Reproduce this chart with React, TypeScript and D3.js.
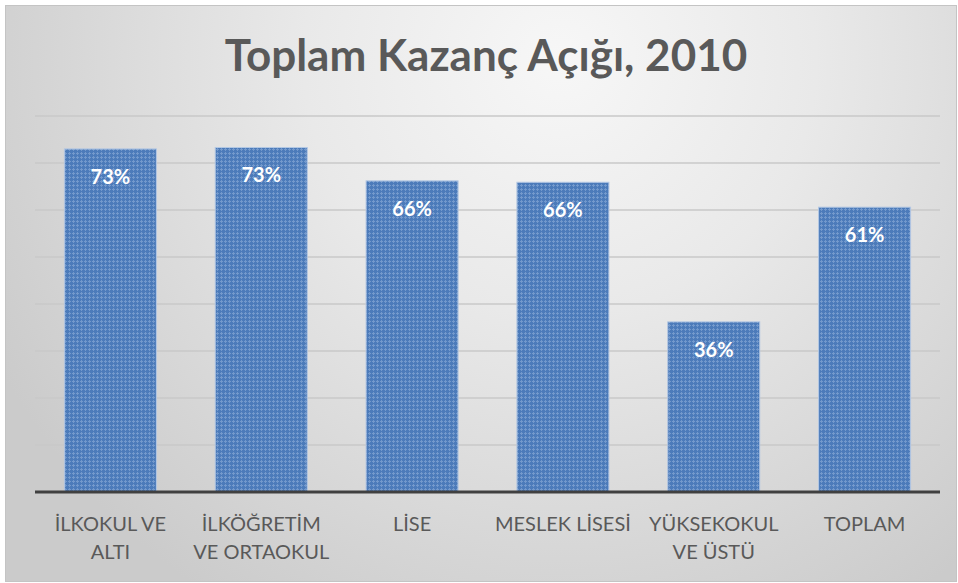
import React, { useEffect, useRef } from "react";
import * as d3 from "d3";

const title = "Toplam Kazanç Açığı, 2010";
const categories = [
  "İLKOKUL VE ALTI",
  "İLKÖĞRETİM VE ORTAOKUL",
  "LİSE",
  "MESLEK LİSESİ",
  "YÜKSEKOKUL VE ÜSTÜ",
  "TOPLAM",
];
const values = [0.73, 0.733, 0.662, 0.659, 0.362, 0.606];
const labels = ["73%", "73%", "66%", "66%", "36%", "61%"];
const gridTicks = [0.1, 0.2, 0.3, 0.4, 0.5, 0.6, 0.7, 0.8];

const W = 958;
const H = 583;
const FONT = "Lato, 'Open Sans', sans-serif";

export default function App() {
  const ref = useRef<SVGSVGElement>(null);

  useEffect(() => {
    const svg = d3.select(ref.current);
    svg.selectAll("*").remove();

    const defs = svg.append("defs");
    const bg = defs
      .append("radialGradient")
      .attr("id", "bg")
      .attr("gradientUnits", "userSpaceOnUse")
      .attr("cx", 560)
      .attr("cy", 60)
      .attr("r", 640);
    bg.append("stop").attr("offset", "0").attr("stop-color", "#f7f7f7");
    bg.append("stop").attr("offset", "0.4").attr("stop-color", "#e9e9e9");
    bg.append("stop").attr("offset", "1").attr("stop-color", "#cbcbcb");

    const pat = defs
      .append("pattern")
      .attr("id", "dots")
      .attr("patternUnits", "userSpaceOnUse")
      .attr("width", 4)
      .attr("height", 4);
    pat.append("rect").attr("width", 4).attr("height", 4).attr("fill", "#4c7bba");
    pat.append("rect").attr("x", 1).attr("y", 0).attr("width", 1).attr("height", 3).attr("fill", "#7399cc");
    pat.append("rect").attr("x", 0).attr("y", 1).attr("width", 3).attr("height", 1).attr("fill", "#7399cc");

    // frame
    svg
      .append("rect")
      .attr("x", 5.5)
      .attr("y", 5.5)
      .attr("width", W - 7)
      .attr("height", H - 7)
      .attr("fill", "url(#bg)")
      .attr("stroke", "#c4c4c4")
      .attr("stroke-width", 1);

    const left = 35;
    const right = 940;
    const baseY = 492;

    const x = d3.scaleBand<string>().domain(categories).range([left, right]).paddingInner(0.39).paddingOuter(0.195);
    const y = d3.scaleLinear().domain([0, 0.8]).range([baseY, 116]);

    svg
      .append("text")
      .attr("x", 486)
      .attr("y", 71)
      .attr("text-anchor", "middle")
      .attr("font-family", FONT)
      .attr("font-weight", 700)
      .attr("font-size", 44)
      .attr("fill", "#595959")
      .text(title);

    svg
      .append("g")
      .selectAll("line")
      .data(gridTicks)
      .join("line")
      .attr("x1", left)
      .attr("x2", right)
      .attr("y1", (d) => y(d))
      .attr("y2", (d) => y(d))
      .attr("stroke", "#c9c9c9")
      .attr("stroke-width", 1.5);

    svg
      .append("g")
      .selectAll("rect")
      .data(values)
      .join("rect")
      .attr("x", (_, i) => x(categories[i])!)
      .attr("y", (d) => y(d))
      .attr("width", x.bandwidth())
      .attr("height", (d) => baseY - y(d))
      .attr("fill", "url(#dots)")
      .attr("stroke", "#b3c7e3")
      .attr("stroke-width", 1);

    svg
      .append("line")
      .attr("x1", left)
      .attr("x2", right)
      .attr("y1", baseY)
      .attr("y2", baseY)
      .attr("stroke", "#404040")
      .attr("stroke-width", 3);

    svg
      .append("g")
      .selectAll("text")
      .data(values)
      .join("text")
      .attr("x", (_, i) => x(categories[i])! + x.bandwidth() / 2)
      .attr("y", (d) => y(d) + 35)
      .attr("text-anchor", "middle")
      .attr("font-family", FONT)
      .attr("font-weight", 700)
      .attr("font-size", 20)
      .attr("fill", "#ffffff")
      .text((_, i) => labels[i]);

    const step = x.step();
    const catG = svg.append("g");
    categories.forEach((c, i) => {
      const cx = x(c)! + x.bandwidth() / 2;
      const t = catG
        .append("text")
        .attr("x", cx)
        .attr("y", 531)
        .attr("text-anchor", "middle")
        .attr("font-family", FONT)
        .attr("font-size", 20)
        .attr("fill", "#595959");
      const words = c.split(" ");
      let line: string[] = [];
      let tspan = t.append("tspan").attr("x", cx).attr("dy", 0);
      for (const w of words) {
        line.push(w);
        tspan.text(line.join(" "));
        if ((tspan.node() as SVGTSpanElement).getComputedTextLength() > step * 0.95 && line.length > 1) {
          line.pop();
          tspan.text(line.join(" "));
          line = [w];
          tspan = t.append("tspan").attr("x", cx).attr("dy", 28).text(w);
        }
      }
    });
  }, []);

  return (
    <svg ref={ref} width={W} height={H} style={{ position: "absolute", left: 0, top: 0, display: "block" }} />
  );
}
